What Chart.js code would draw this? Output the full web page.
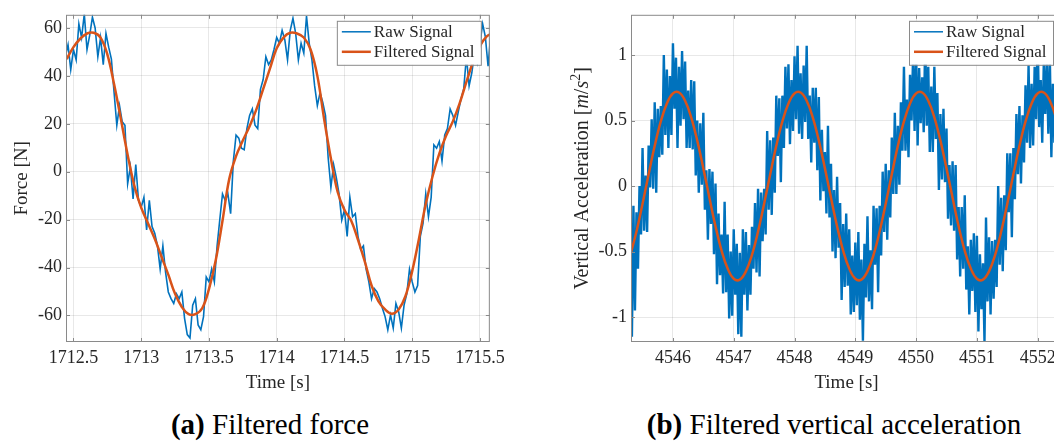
<!DOCTYPE html>
<html>
<head>
<meta charset="utf-8">
<title>Filtered force and vertical acceleration</title>
<script src="https://cdn.jsdelivr.net/npm/chart.js@4.4.1/dist/chart.umd.min.js"></script>
<style>
  html, body { margin: 0; padding: 0; background: #fff; }
  body { width: 1054px; height: 441px; overflow: hidden; position: relative; font-family: 'Liberation Serif', 'Times New Roman', serif; }
  .panel { position: absolute; top: 0; height: 400px; }
  #panelA { left: 0; width: 510px; }
  #panelB { left: 530px; width: 540px; }
  .caption { position: absolute; top: 410px; width: 420px; text-align: center; font-size: 29px; line-height: 29px; color: #000; white-space: nowrap; }
  #capA { left: 60px; }
  #capB { left: 624px; }
</style>
</head>
<body>
<div class="panel" id="panelA"><canvas id="chartForce"></canvas></div>
<div class="panel" id="panelB"><canvas id="chartAccel"></canvas></div>
<div class="caption" id="capA"><b>(a)</b> Filtered force</div>
<div class="caption" id="capB"><b>(b)</b> Filtered vertical acceleration</div>
<script>
// series names
const seriesNames = ['Raw Signal', 'Filtered Signal'];

// (a) force [N], sampled from t0 with a fixed step [s]
const forceRawStart = 1712.44, forceRawStep = 0.02;
const forceRaw = [
  48, 53, 42.6, 51, 46.7, 61.7, 56, 65.8, 51, 57, 64.5, 60, 48, 56, 44.7, 57.7, 52, 47, 33, 19.4,
  27.6, 20.8, 19.4, -5, 2, -11.4, 3, -12, -14.8, -10.7, -24.3, -12, -22.9, -25.7, -31, -40.7, -31, -42, -50.2, -53,
  -55, -51, -53, -50.2, -61.2, -68, -69.4, -55.7, -53, -64, -66, -60.5, -44, -46, -40.7, -46, -31, -20, -9.3, -12,
  -9.3, -17.5, 4.4, 15.3, 14, 9.8, 9.2, 18, 23.5, 26.2, 19.4, 18, 34.4, 38.5, 48, 44.7, 46.7, 51, 56, 53.6,
  59, 55, 46.7, 59, 64, 57.7, 46.7, 53.6, 49.5, 65, 53.6, 46.7, 35.8, 27.6, 33, 28.9, 23.5, 5.7, -6.6, 3,
  -2.5, -9.3, -20.2, -16, -27, -10.7, -18.8, -17.5, -27, -32.5, -31, -40.7, -46, -53, -48.8, -50.2, -53, -57, -60.5, -66,
  -59.8, -65.3, -55, -58.4, -65.3, -55.7, -51, -40.7, -46, -50.2, -47.5, -27, -21.6, -9.3, -18.8, -10.7, 11.2, 9.8, 12.6, 4.4,
  15.3, 18, 26.2, 23.5, 19.4, 25, 30.3, 34.4, 48, 35.8, 41.3, 49.5, 45.4, 53.6, 61.7, 56.3, 44, 57.7
];
const forceFilteredStart = 1712.45, forceFilteredStep = 0.05;
const forceFiltered = [
  47, 52, 55.5, 57.7, 58, 56, 49, 36.5, 22, 7, -6, -15, -21.5, -28, -35.5, -43, -51, -56.5, -59.5, -59.5,
  -57, -49, -37, -20.5, -3, 6.5, 13, 19, 26, 34.5, 43, 51.5, 56, 58, 57.7, 56, 51, 40, 22, 5.5,
  -8.5, -16, -20.5, -28.5, -37.5, -47.5, -54, -57.5, -59.3, -57.5, -52, -41.5, -28, -13.5, -2, 7.5, 15, 21, 28.5, 37.5,
  46, 52.5, 56.5, 58
];

// (b) vertical acceleration [m/s^2]
const accelRawStart = 4545.30, accelRawStep = 0.025;
const accelRaw = [
  -0.30, -1.15, -0.15, -0.95, -0.20, -0.63, 0.00, -0.37, 0.29, -0.34, 0.08, -0.35, 0.31, -0.01, 0.51, -0.02,
  0.64, -0.05, 0.59, 0.22, 0.61, 0.24, 1.00, 0.39, 0.89, 0.29, 0.84, 0.39, 1.09, 0.59, 0.98, 0.29,
  0.91, 0.46, 1.03, 0.51, 0.95, 0.29, 0.73, 0.29, 0.81, 0.28, 0.80, 0.08, 0.50, -0.05, 0.48, 0.01,
  0.56, -0.18, 0.12, -0.41, 0.13, -0.29, 0.11, -0.52, 0.02, -0.75, -0.21, -0.68, -0.37, -0.82, -0.12, -0.81,
  -0.37, -1.01, -0.50, -0.99, -0.33, -0.83, -0.44, -1.13, -0.51, -1.15, -0.33, -0.83, -0.35, -0.95, -0.45, -0.83,
  -0.31, -0.63, -0.13, -0.66, -0.02, -0.69, -0.05, -0.42, -0.02, -0.37, 0.42, -0.18, 0.35, -0.22, 0.37, -0.05,
  0.69, 0.23, 0.67, 0.03, 0.69, 0.29, 0.91, 0.44, 0.93, 0.32, 0.81, 0.42, 0.99, 0.51, 1.07, 0.40,
  0.86, 0.36, 0.92, 0.49, 1.07, 0.36, 0.69, 0.18, 0.75, 0.33, 0.75, 0.12, 0.68, -0.11, 0.43, -0.04,
  0.26, -0.21, 0.46, -0.24, 0.17, -0.50, -0.03, -0.55, 0.07, -0.47, -0.13, -0.87, -0.29, -0.77, -0.21, -0.76,
  -0.33, -0.98, -0.53, -0.96, -0.43, -0.91, -0.35, -1.02, -0.56, -1.18, -0.44, -0.85, -0.23, -0.88, -0.49, -0.94,
  -0.15, -0.60, -0.17, -0.81, -0.15, -0.53, 0.11, -0.35, 0.17, -0.41, 0.12, -0.24, 0.37, -0.06, 0.56, -0.06,
  0.46, 0.01, 0.64, 0.27, 0.91, 0.27, 0.66, 0.22, 0.85, 0.50, 0.98, 0.42, 1.04, 0.31, 0.90, 0.48,
  0.83, 0.41, 1.12, 0.46, 0.91, 0.26, 0.76, 0.26, 0.91, 0.36, 0.71, -0.03, 0.55, 0.05, 0.59, 0.03,
  0.44, -0.25, 0.16, -0.30, 0.19, -0.34, 0.16, -0.56, -0.16, -0.69, -0.16, -0.63, -0.07, -0.79, -0.46, -0.98,
  -0.41, -0.80, -0.36, -0.96, -0.38, -1.11, -0.52, -0.94, -0.59, -1.19, -0.24, -0.88, -0.39, -0.98, -0.42, -0.86,
  -0.41, -0.77, 0.00, -0.60, -0.09, -0.65, -0.07, -0.49, 0.25, -0.20, 0.25, -0.39, 0.29, -0.10, 0.55, 0.09,
  0.61, 0.02, 0.54, 0.18, 0.77, 0.33, 0.92, 0.29, 0.78, 0.31, 0.91, 0.51, 1.13, 0.45, 0.81, 0.33,
  0.93, 0.55, 0.99, 0.40, 0.98, 0.22, 0.78, 0.33, 0.65, 0.19, 0.88, 0.18, 0.55
];
const accelFilteredStart = 4545.30, accelFilteredStep = 0.1;
const accelFiltered = [
  -0.525, -0.347, -0.135, 0.090, 0.307, 0.493, 0.630, 0.707, 0.714, 0.651, 0.525, 0.347, 0.135, -0.090, -0.307, -0.493, -0.630, -0.707, -0.714, -0.651,
  -0.525, -0.347, -0.135, 0.090, 0.307, 0.493, 0.630, 0.707, 0.714, 0.651, 0.525, 0.347, 0.135, -0.090, -0.307, -0.493, -0.630, -0.707, -0.714, -0.651,
  -0.525, -0.347, -0.135, 0.090, 0.307, 0.493, 0.630, 0.707, 0.714, 0.651, 0.525, 0.347, 0.135, -0.090, -0.307, -0.493, -0.630, -0.707, -0.714, -0.651,
  -0.525, -0.347, -0.135, 0.090, 0.307, 0.493, 0.630, 0.707, 0.714, 0.651, 0.525, 0.347
];

const rawColor = '#0072BD';
const filtColor = '#D95319';
const textColor = '#262626';
const gridColor = 'rgba(0,0,0,0.09)';
const frameColor = '#8a8a8a';
const serif = "'Liberation Serif', 'Times New Roman', serif";

function toPoints(start, step, values) {
  return values.map((v, i) => ({ x: +(start + i * step).toFixed(3), y: v }));
}

function fmt(v) {
  return String(Math.round(v * 100) / 100);
}

// box around the axes with short inward ticks
const boxFrame = {
  id: 'boxFrame',
  afterDatasetsDraw(chart) {
    const { ctx, chartArea: a, scales } = chart;
    ctx.save();
    ctx.strokeStyle = frameColor;
    ctx.lineWidth = 1;
    ctx.strokeRect(a.left + 0.5, a.top + 0.5, a.right - a.left - 1, a.bottom - a.top - 1);
    ctx.beginPath();
    scales.x.ticks.forEach(t => {
      const px = Math.round(scales.x.getPixelForValue(t.value)) + 0.5;
      ctx.moveTo(px, a.bottom); ctx.lineTo(px, a.bottom - 4);
      ctx.moveTo(px, a.top); ctx.lineTo(px, a.top + 4);
    });
    scales.y.ticks.forEach(t => {
      const py = Math.round(scales.y.getPixelForValue(t.value)) + 0.5;
      ctx.moveTo(a.left, py); ctx.lineTo(a.left + 4, py);
      ctx.moveTo(a.right, py); ctx.lineTo(a.right - 4, py);
    });
    ctx.stroke();
    ctx.restore();
  }
};

// legend in a framed box, top right inside the plot
const boxLegend = {
  id: 'boxLegend',
  afterDraw(chart) {
    const { ctx, chartArea: a } = chart;
    const w = 144, h = 44;
    const left = a.right - 9 - w, top = a.top + 6;
    ctx.save();
    ctx.fillStyle = '#fff';
    ctx.fillRect(left, top, w, h);
    ctx.strokeStyle = frameColor;
    ctx.lineWidth = 1;
    ctx.strokeRect(left + 0.5, top + 0.5, w, h);
    ctx.font = '17px ' + serif;
    ctx.textBaseline = 'middle';
    chart.data.datasets.forEach((ds, i) => {
      const y = top + 11 + i * 20;
      ctx.strokeStyle = ds.borderColor;
      ctx.lineWidth = i === 0 ? 1.5 : ds.borderWidth;
      ctx.beginPath();
      ctx.moveTo(left + 5, y);
      ctx.lineTo(left + 34, y);
      ctx.stroke();
      ctx.fillStyle = textColor;
      ctx.fillText(ds.label, left + 37, y + 1);
    });
    ctx.restore();
  }
};

// rotated y title with mixed styles (n = normal, i = italic, s = superscript)
function makeYTitle(parts, baseX, size) {
  return {
    id: 'yTitle',
    afterDraw(chart) {
      const { ctx, chartArea: a } = chart;
      const fonts = {
        n: size + 'px ' + serif,
        i: 'italic ' + size + 'px ' + serif,
        s: Math.round(size * 0.7) + 'px ' + serif
      };
      ctx.save();
      const widths = parts.map(p => { ctx.font = fonts[p[1]]; return ctx.measureText(p[0]).width; });
      const total = widths.reduce((s, w) => s + w, 0);
      ctx.translate(baseX, (a.top + a.bottom) / 2);
      ctx.rotate(-Math.PI / 2);
      ctx.fillStyle = textColor;
      ctx.textBaseline = 'alphabetic';
      let x = -total / 2;
      parts.forEach((p, i) => {
        ctx.font = fonts[p[1]];
        ctx.fillText(p[0], x, p[1] === 's' ? -size * 0.42 : 0);
        x += widths[i];
      });
      ctx.restore();
    }
  };
}

function makeConfig(o) {
  const tickFont = { family: serif, size: 18 };
  return {
    type: 'line',
    data: {
      datasets: [
        { label: seriesNames[0], data: o.raw, borderColor: rawColor, borderWidth: o.rawWidth, pointRadius: 0, tension: 0, order: 2 },
        { label: seriesNames[1], data: o.filtered, borderColor: filtColor, borderWidth: 2.5, pointRadius: 0, tension: 0.4, order: 1 }
      ]
    },
    options: {
      responsive: true,
      maintainAspectRatio: false,
      animation: false,
      devicePixelRatio: 1,
      layout: { padding: { top: 9, right: o.padRight, bottom: 0, left: 0 } },
      plugins: { legend: { display: false }, tooltip: { enabled: false } },
      scales: {
        x: {
          type: 'linear', min: o.xMin, max: o.xMax,
          afterFit: s => { s.height = 58; },
          grid: { color: gridColor, drawTicks: false },
          border: { display: false },
          ticks: { stepSize: o.xStep, includeBounds: false, autoSkip: false, maxRotation: 0, padding: 5, color: textColor, font: tickFont, callback: v => fmt(v) },
          title: { display: true, text: 'Time [s]', color: textColor, font: { family: serif, size: 19 }, padding: { top: 0, bottom: 6 } }
        },
        y: {
          type: 'linear', min: o.yMin, max: o.yMax,
          afterFit: s => { s.width = o.yWidth; },
          grid: { color: gridColor, drawTicks: false },
          border: { display: false },
          ticks: { stepSize: o.yStep, includeBounds: false, autoSkip: false, padding: 4, color: textColor, font: tickFont, callback: v => fmt(v) },
          title: { display: false }
        }
      }
    },
    plugins: [boxFrame, boxLegend, o.yTitle]
  };
}

new Chart(document.getElementById('chartForce'), makeConfig({
  raw: toPoints(forceRawStart, forceRawStep, forceRaw),
  filtered: toPoints(forceFilteredStart, forceFilteredStep, forceFiltered),
  rawWidth: 1.6,
  xMin: 1712.445, xMax: 1715.573, xStep: 0.5,
  yMin: -71.1, yMax: 65.5, yStep: 20,
  yWidth: 66, padRight: 13,
  yTitle: makeYTitle([['Force [N]', 'n']], 27, 19)
}));

new Chart(document.getElementById('chartAccel'), makeConfig({
  raw: toPoints(accelRawStart, accelRawStep, accelRaw),
  filtered: toPoints(accelFilteredStart, accelFilteredStep, accelFiltered),
  rawWidth: 2.4,
  xMin: 4545.31, xMax: 4552.40, xStep: 1,
  yMin: -1.19, yMax: 1.307, yStep: 0.5,
  yWidth: 101, padRight: 8,
  yTitle: makeYTitle([['Vertical Acceleration [', 'n'], ['m', 'i'], ['/', 'n'], ['s', 'i'], ['2', 's'], [']', 'n']], 58, 20)
}));
</script>
</body>
</html>
